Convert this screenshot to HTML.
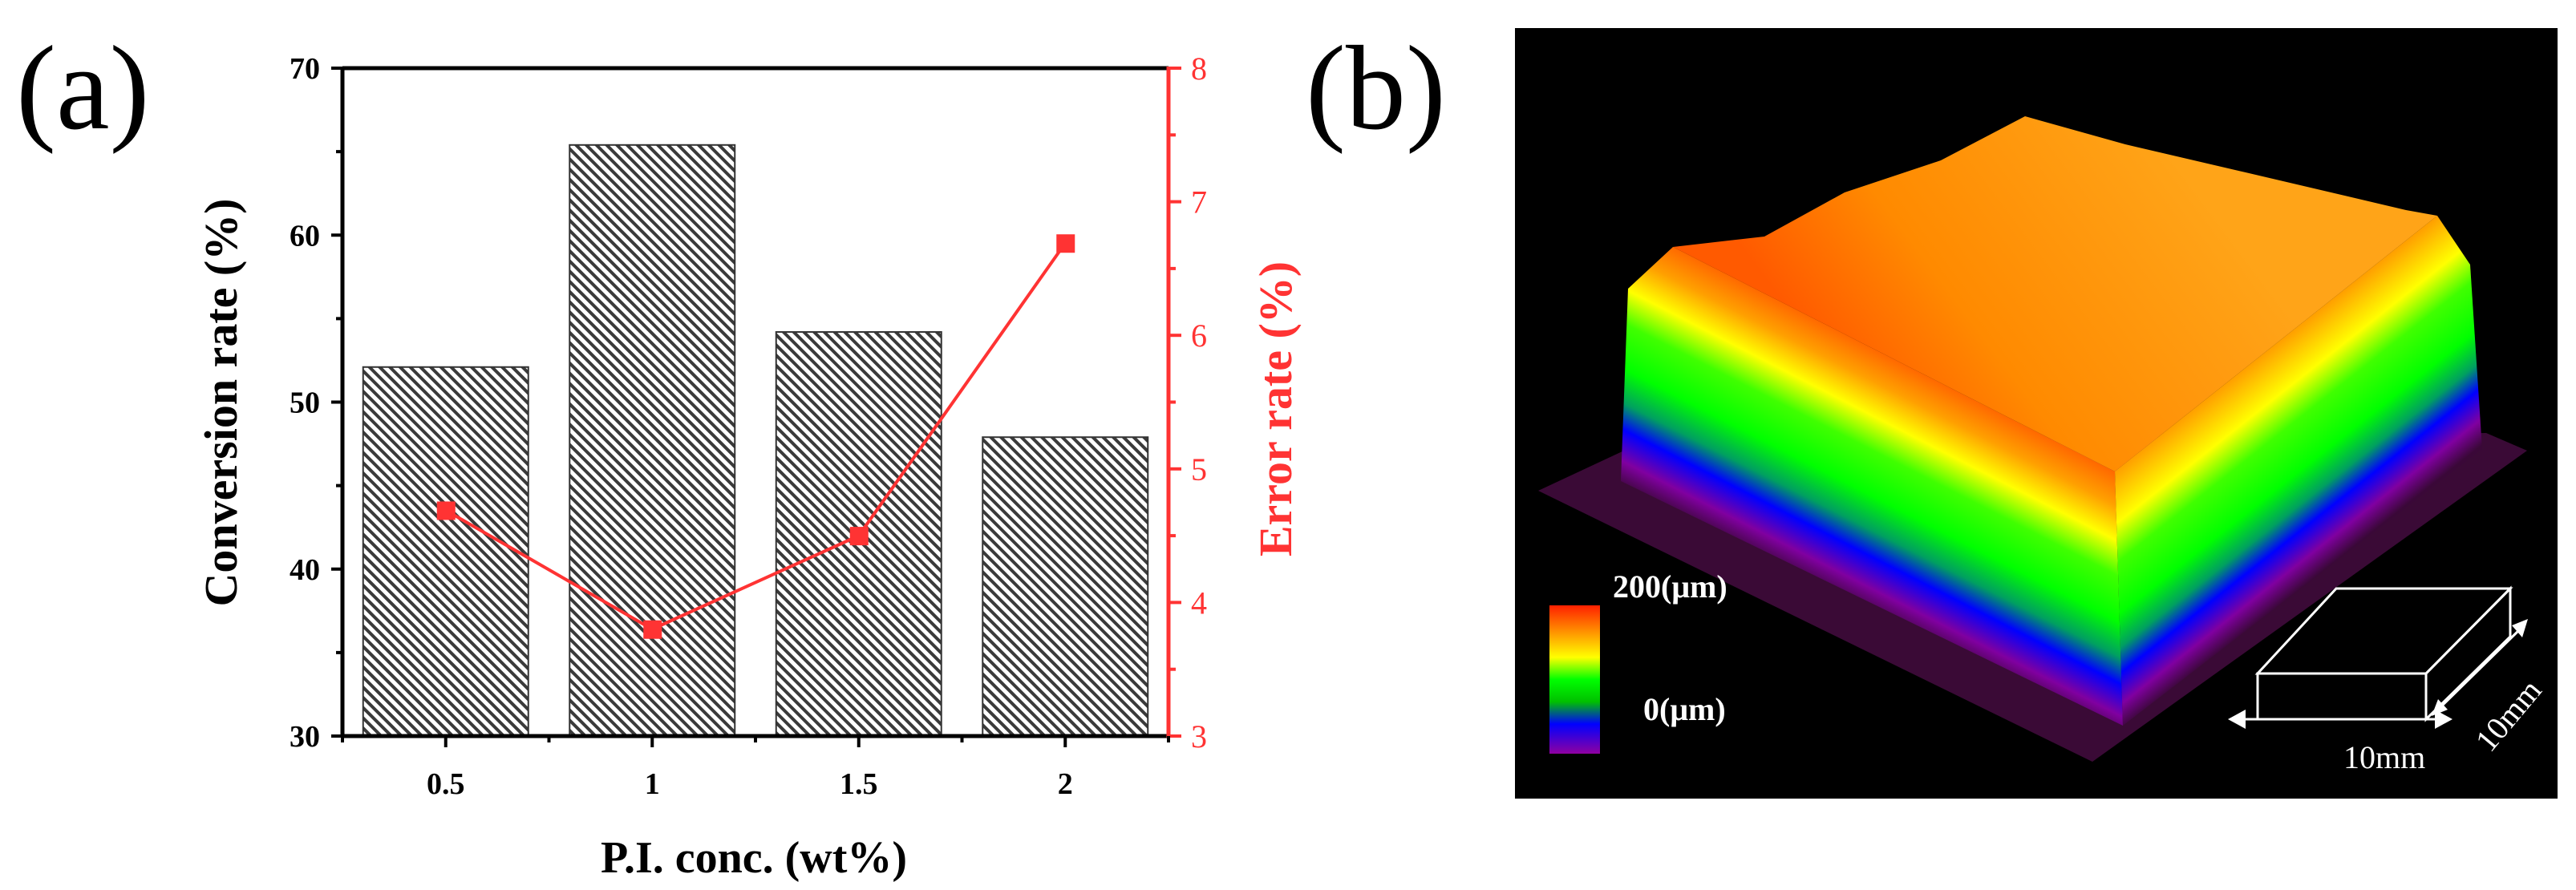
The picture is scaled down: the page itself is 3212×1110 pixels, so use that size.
<!DOCTYPE html>
<html><head><meta charset="utf-8"><style>
html,body{margin:0;padding:0;background:#fff;}
svg{display:block;}
text{font-family:"Liberation Serif","DejaVu Serif",serif;}
</style></head><body>
<svg id="fig" width="3212" height="1110" viewBox="0 0 3212 1110" xmlns="http://www.w3.org/2000/svg">
<defs>
<pattern id="hatch" patternUnits="userSpaceOnUse" width="9" height="9" patternTransform="rotate(-45)">
<rect width="9" height="9" fill="#fff"/>
<rect x="0" y="0" width="4" height="9" fill="#3a3a3a"/>
</pattern>
<linearGradient id="gLeft" gradientUnits="userSpaceOnUse" x1="2360" y1="448" x2="2225" y2="712">
<stop offset="0" stop-color="#ff6a00"/>
<stop offset="0.12" stop-color="#ffa000"/>
<stop offset="0.25" stop-color="#ffff00"/>
<stop offset="0.38" stop-color="#40ff00"/>
<stop offset="0.55" stop-color="#00ff00"/>
<stop offset="0.68" stop-color="#00a060"/>
<stop offset="0.78" stop-color="#0000ff"/>
<stop offset="0.9" stop-color="#8000a0"/>
<stop offset="1" stop-color="#3a0838"/>
</linearGradient>
<linearGradient id="gRight" gradientUnits="userSpaceOnUse" x1="2840" y1="428" x2="3000" y2="630">
<stop offset="0" stop-color="#ffa000"/>
<stop offset="0.2" stop-color="#ffff00"/>
<stop offset="0.35" stop-color="#40ff00"/>
<stop offset="0.55" stop-color="#00ff00"/>
<stop offset="0.68" stop-color="#00a060"/>
<stop offset="0.78" stop-color="#0000ff"/>
<stop offset="0.9" stop-color="#8000a0"/>
<stop offset="1" stop-color="#3a0838"/>
</linearGradient>
<linearGradient id="gTop" gradientUnits="userSpaceOnUse" x1="2300" y1="480" x2="2700" y2="180">
<stop offset="0" stop-color="#ff5a00"/>
<stop offset="0.35" stop-color="#ff8a00"/>
<stop offset="1" stop-color="#ffa418"/>
</linearGradient>
<linearGradient id="gBar" x1="0" y1="0" x2="0" y2="1">
<stop offset="0" stop-color="#ff2000"/>
<stop offset="0.2" stop-color="#ffa000"/>
<stop offset="0.35" stop-color="#ffff00"/>
<stop offset="0.5" stop-color="#00ff00"/>
<stop offset="0.65" stop-color="#00c000"/>
<stop offset="0.8" stop-color="#0000ff"/>
<stop offset="1" stop-color="#9000a0"/>
</linearGradient>
</defs>

<text x="20" y="160" font-size="150">(a)</text>
<text x="1628" y="160" font-size="150">(b)</text>

<g id="chart"></g>

<g>
<rect x="1889" y="35" width="1300" height="961" fill="#000"/>
<polygon points="1918,612 2040,555 3100,540 3151,562 2609,950" fill="#3a0a36"/>
<polygon points="2086,308 2637,588 2647,905 2021,600 2030,360" fill="url(#gLeft)"/>
<polygon points="2637,588 3039,269 3080,330 3095,560 2647,905" fill="url(#gRight)"/>
<polygon points="2086,308 2200,295 2300,240 2420,200 2525,145 2650,180 2800,215 3000,262 3039,269 2637,588" fill="url(#gTop)"/>
<rect x="1932" y="755" width="63" height="185" fill="url(#gBar)"/>
<text x="2011" y="745" font-size="40" fill="#fff" font-weight="bold">200(μm)</text>
<text x="2049" y="898" font-size="40" fill="#fff" font-weight="bold">0(μm)</text>
<g fill="none" stroke="#fff" stroke-width="3">
<polygon points="2913,734 3130,734 3025,840 2815,840"/>
<polygon points="2815,840 3025,840 3025,897 2815,897"/>
<polygon points="3025,840 3130,734 3130,794 3025,897"/>
<line x1="2790" y1="897" x2="3045" y2="897"/>
<line x1="3040" y1="885" x2="3145" y2="782"/>
</g>
<polygon points="2778,897 2800,885 2800,909" fill="#fff"/>
<polygon points="3058,897 3036,885 3036,909" fill="#fff"/>
<polygon points="3152,772 3132,780 3145,795" fill="#fff"/>
<polygon points="3032,893 3052,885 3040,872" fill="#fff"/>
<text x="2922" y="958" font-size="40" fill="#fff">10mm</text>
<text x="0" y="0" font-size="40" fill="#fff" transform="translate(3105,940) rotate(-50)">10mm</text>
</g>
</svg>
<script>
const categories = ["0.5","1","1.5","2"];
const conversionRate = [52.1, 65.4, 54.2, 47.9];
const errorRate = [4.69, 3.8, 4.5, 6.69];
const leftTicks = [30, 40, 50, 60, 70];
const rightTicks = [3, 4, 5, 6, 7, 8];

const NS = "http://www.w3.org/2000/svg";
const g = document.getElementById("chart");
const L = 427, R = 1457, T = 85, B = 918;
const n = categories.length;
const band = (R - L) / n;
const xc = i => L + band * (i + 0.5);
const yL = v => B - (v - 30) / 40 * (B - T);
const yR = v => B - (v - 3) / 5 * (B - T);
function mk(tag, attrs) { const e = document.createElementNS(NS, tag); for (const k in attrs) e.setAttribute(k, attrs[k]); g.appendChild(e); return e; }

conversionRate.forEach((v, i) => {
  const w = band * 0.8;
  const r = mk("rect", {x: xc(i) - w/2, y: yL(v), width: w, height: B - yL(v), fill: "url(#hatch)", stroke: "#333", "stroke-width": 2});
  
  
});

let a;
a = mk("line", {x1: L, y1: T, x2: R, y2: T, stroke: "#000", "stroke-width": 5});


a = mk("line", {x1: L, y1: T - 2, x2: L, y2: B + 2, stroke: "#000", "stroke-width": 5});


a = mk("line", {x1: L, y1: B, x2: R, y2: B, stroke: "#000", "stroke-width": 5});


a = mk("line", {x1: R, y1: T - 2, x2: R, y2: B + 2, stroke: "#ff3333", "stroke-width": 5});



for (let v = 30; v <= 70; v += 5) {
  const major = v % 10 === 0;
  const t = mk("line", {x1: L - (major ? 14 : 8), y1: yL(v), x2: L, y2: yL(v), stroke: "#000", "stroke-width": 4});
  
  
}
leftTicks.forEach(v => {
  const t = mk("text", {x: L - 28, y: yL(v) + 13, "font-size": 38, "font-weight": "bold", "text-anchor": "end"});
  t.textContent = v;
  
  
});
for (let v = 3; v <= 8.001; v += 0.5) {
  const major = Math.abs(v - Math.round(v)) < 0.01;
  const t = mk("line", {x1: R, y1: yR(v), x2: R + (major ? 16 : 9), y2: yR(v), stroke: "#ff3333", "stroke-width": 4});
  
  
}
rightTicks.forEach(v => {
  const t = mk("text", {x: R + 28, y: yR(v) + 14, "font-size": 40, fill: "#ff3333"});
  t.textContent = v;
  
  
});
for (let i = 0; i <= n; i++) {
  const t = mk("line", {x1: L + band * i, y1: B, x2: L + band * i, y2: B + 8, stroke: "#000", "stroke-width": 4});
  
  
}
categories.forEach((c, i) => {
  const t = mk("line", {x1: xc(i), y1: B, x2: xc(i), y2: B + 14, stroke: "#000", "stroke-width": 4});
  
  
  const lb = mk("text", {x: xc(i), y: 990, "font-size": 38, "font-weight": "bold", "text-anchor": "middle"});
  lb.textContent = c;
  
  
});

const pts = errorRate.map((v, i) => xc(i) + "," + yR(v)).join(" ");
const pl = mk("polyline", {points: pts, fill: "none", stroke: "#ff3333", "stroke-width": 4});


errorRate.forEach((v, i) => {
  const m = mk("rect", {x: xc(i) - 11, y: yR(v) - 11, width: 23, height: 23, fill: "#ff3333"});
  
  
});

let tt = mk("text", {x: 0, y: 0, "font-size": 58, "font-weight": "bold", "text-anchor": "middle", transform: "translate(295,502) rotate(-90)"});
tt.textContent = "Conversion rate (%)";


tt = mk("text", {x: 0, y: 0, "font-size": 58, "font-weight": "bold", "text-anchor": "middle", fill: "#ff3333", transform: "translate(1610,510) rotate(-90)"});
tt.textContent = "Error rate (%)";


tt = mk("text", {x: 940, y: 1088, "font-size": 56, "font-weight": "bold", "text-anchor": "middle"});
tt.textContent = "P.I. conc. (wt%)";


</script>
</body></html>
